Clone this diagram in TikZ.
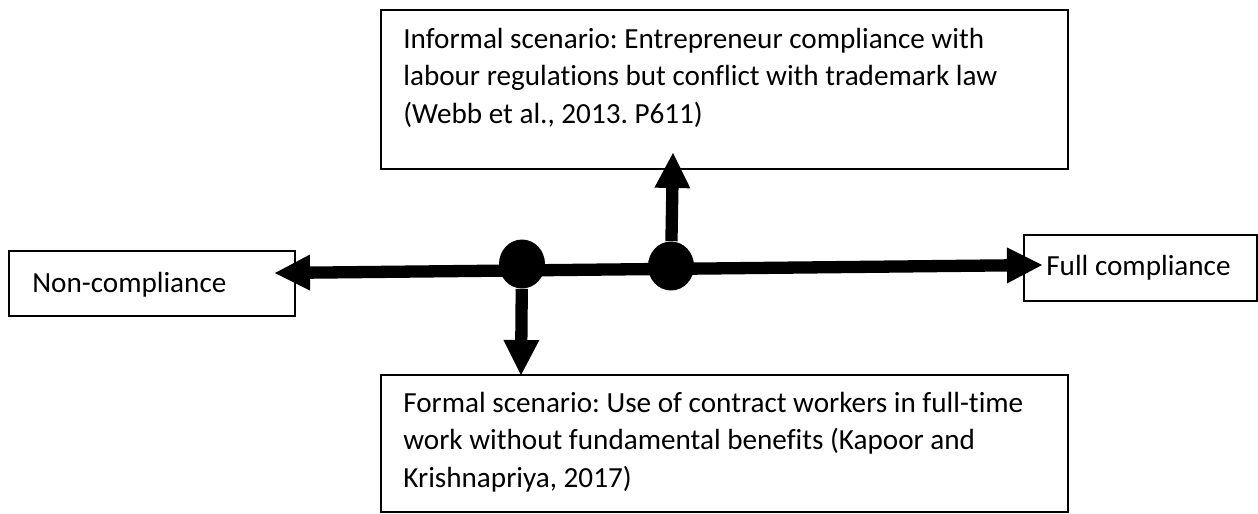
\documentclass[tikz,border=0pt]{standalone}
\usepackage{fontspec}
\setmainfont{Carlito}[Ligatures=NoCommon]
\frenchspacing
\usetikzlibrary{arrows.meta,shapes.geometric}
\tikzset{
  head/.tip={Triangle[length=0.7cm,width=0.72cm,line width=0pt]},
  box/.style={draw,line width=1.1pt,inner sep=0pt},
  boxtext/.style={anchor=base west,align=left,inner sep=0pt,font=\fontsize{16.6}{21.3}\selectfont},
  dot/.style={ellipse,fill=black,inner sep=0pt,minimum width=0.92cm,minimum height=0.98cm},
  axis/.style={line width=7pt,head-head},
  stem/.style={line width=7pt,-head}
}
\begin{document}
\begin{tikzpicture}[x=0.02cm,y=-0.02cm]
\useasboundingbox(0,0) rectangle (1258,514);
%
\node[box,minimum width=5.72cm,minimum height=1.3cm](non) at (152,283.5){};
\node[box,minimum width=4.66cm,minimum height=1.32cm](full) at (1140.5,268){};
\node[box,minimum width=13.74cm,minimum height=3.18cm](informal) at (724.5,89.5){};
\node[box,minimum width=13.74cm,minimum height=2.74cm](formal) at (724.5,443.5){};
%
\node[boxtext](nonText) at (32,292){Non-compliance};
\node[boxtext](fullText) at (1046,275){Full compliance};
\node[boxtext](informalText) at (403,123){Informal scenario: Entrepreneur compliance with\\labour regulations but conflict with trademark law\\(Webb et al., 2013. P611)};
\node[boxtext](formalText) at (403,487){Formal scenario: Use of contract workers in full-time\\work without fundamental benefits (Kapoor and\\Krishnapriya, 2017)};
%
\coordinate(west) at (275,273);
\coordinate(east) at (1042,265);
\coordinate(up) at (673,153);
\coordinate(down) at (521,375);
%
\node[dot](dotA) at (522,264){};
\node[dot](dotB) at (671,266){};
%
\draw[axis](west)--(east);
\draw[stem](dotB)--(up);
\draw[stem](dotA)--(down);
\end{tikzpicture}
\end{document}
